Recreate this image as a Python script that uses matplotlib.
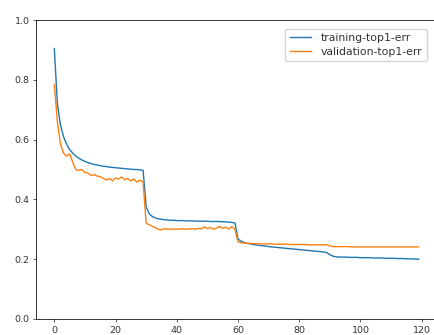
import matplotlib
matplotlib.use("Agg")
import matplotlib.pyplot as plt

# per-epoch top-1 error
train_err = [
    0.905, 0.720, 0.650, 0.610, 0.585, 0.567, 0.555, 0.545, 0.538, 0.532,
    0.527, 0.523, 0.520, 0.517, 0.515, 0.513, 0.511, 0.510, 0.508, 0.507,
    0.506, 0.505, 0.504, 0.503, 0.502, 0.501, 0.500, 0.500, 0.499, 0.497,
    0.375, 0.352, 0.343, 0.338, 0.335, 0.333, 0.332, 0.331, 0.330, 0.330,
    0.329, 0.329, 0.329, 0.328, 0.328, 0.328, 0.328, 0.327, 0.327, 0.327,
    0.327, 0.326, 0.326, 0.326, 0.326, 0.325, 0.325, 0.324, 0.323, 0.321,
    0.268, 0.260, 0.256, 0.253, 0.251, 0.249, 0.247, 0.246, 0.245, 0.244,
    0.242, 0.241, 0.240, 0.239, 0.238, 0.237, 0.236, 0.235, 0.234, 0.233,
    0.232, 0.231, 0.230, 0.229, 0.228, 0.227, 0.226, 0.225, 0.224, 0.222,
    0.215, 0.210, 0.208, 0.207, 0.207, 0.207, 0.206, 0.206, 0.206, 0.206,
    0.205, 0.205, 0.205, 0.205, 0.204, 0.204, 0.204, 0.204, 0.203, 0.203,
    0.203, 0.203, 0.202, 0.202, 0.202, 0.201, 0.201, 0.201, 0.200, 0.200,
]
val_err = [
    0.785, 0.660, 0.585, 0.555, 0.545, 0.552, 0.525, 0.500, 0.497, 0.500,
    0.490, 0.488, 0.480, 0.483, 0.478, 0.476, 0.470, 0.465, 0.470, 0.462,
    0.472, 0.468, 0.475, 0.466, 0.470, 0.462, 0.468, 0.458, 0.465, 0.458,
    0.320, 0.315, 0.310, 0.305, 0.300, 0.298, 0.302, 0.300, 0.301, 0.300,
    0.301, 0.300, 0.302, 0.300, 0.301, 0.302, 0.300, 0.303, 0.301, 0.308,
    0.302, 0.306, 0.300, 0.304, 0.309, 0.303, 0.307, 0.301, 0.309, 0.300,
    0.258, 0.255, 0.254, 0.253, 0.253, 0.252, 0.252, 0.252, 0.251, 0.251,
    0.251, 0.251, 0.250, 0.250, 0.250, 0.250, 0.250, 0.249, 0.249, 0.249,
    0.249, 0.249, 0.249, 0.248, 0.248, 0.248, 0.248, 0.248, 0.248, 0.248,
    0.245, 0.242, 0.242, 0.242, 0.242, 0.242, 0.242, 0.241, 0.241, 0.241,
    0.241, 0.241, 0.241, 0.241, 0.241, 0.241, 0.241, 0.241, 0.241, 0.241,
    0.241, 0.241, 0.241, 0.241, 0.241, 0.241, 0.241, 0.241, 0.241, 0.241,
]
epochs = list(range(len(train_err)))

plt.rcParams['font.size'] = 6.8

fig = plt.figure(figsize=(4.35, 3.35), dpi=100)
ax = fig.add_axes([0.083, 0.048, 0.925, 0.892])

ax.plot(epochs, train_err, color='#1f77b4', linewidth=1.0, label='training-top1-err')
ax.plot(epochs, val_err, color='#ff7f0e', linewidth=1.0, label='validation-top1-err')
ax.set_ylim(0, 1.0)
ax.set_xlim(-5.95, 125.5)
ax.set_xticks([0, 20, 40, 60, 80, 100, 120])
ax.tick_params(length=2.4, width=0.55, pad=2.4, colors='#333333')
for s in ax.spines.values():
    s.set_linewidth(0.55)
ax.legend(loc='upper right', bbox_to_anchor=(0.985, 0.99), fontsize=7.8,
          handlelength=2.0, borderpad=0.4, labelspacing=0.35, handletextpad=0.9,
          labelcolor='#333333')

fig.savefig('out.png', dpi=100)
